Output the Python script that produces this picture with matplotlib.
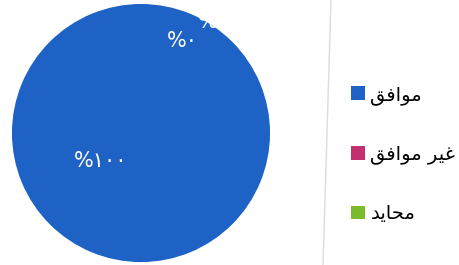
import matplotlib
matplotlib.use("Agg")
import matplotlib.pyplot as plt
from matplotlib.lines import Line2D

# Data
categories = ["موافق", "غير موافق", "محايد"]
# visual (pre-shaped) forms for rendering without bidi shaping
categories_visual = ["\uFED6\uFED3\uFE8D\uFEEE\uFEE3",
                     "\uFED6\uFED3\uFE8D\uFEEE\uFEE3 \uFEAE\uFEF4\uFECF",
                     "\uFEAA\uFEF3\uFE8E\uFEA4\uFEE3"]
values = [100, 0, 0]
colors = ["#1E62C6", "#C2306E", "#7CBA2E"]

def arabic_digits(n):
    return "".join(chr(0x0660 + int(c)) for c in str(n))

pct_labels = ["%" + arabic_digits(v) for v in values]

plt.rcParams['font.family'] = ['DejaVu Sans']

fig = plt.figure(figsize=(4.6, 2.65), dpi=100)
ax = fig.add_axes([0.026, 0.011, 0.561, 0.974])
wedges, _ = ax.pie(values, colors=colors, startangle=62, counterclock=False,
                   radius=1, wedgeprops=dict(linewidth=0))
ax.set_xlim(-1, 1)
ax.set_ylim(-1, 1)
ax.axis('off')

# percentage labels (placement mimics reference)
label_pos = [(-0.31, -0.22), (0.32, 0.71), (0.56, 0.86)]
for lbl, (x, y) in zip(pct_labels, label_pos):
    ax.text(x, y, lbl, color="white", fontsize=15, ha="center", va="center",
            clip_on=False)

# separator line
fig.add_artist(Line2D([331/460, 323/460], [1, 0], color="#dcdcdc", lw=1))

leg = fig.legend(wedges, categories_visual, loc="center left",
                 bbox_to_anchor=(351/460, (265-154)/265), frameon=False,
                 fontsize=14, handlelength=0.7, handleheight=0.7,
                 handletextpad=0.3, labelspacing=2.05,
                 borderpad=0, borderaxespad=0)

fig.savefig("out.png", dpi=100)
